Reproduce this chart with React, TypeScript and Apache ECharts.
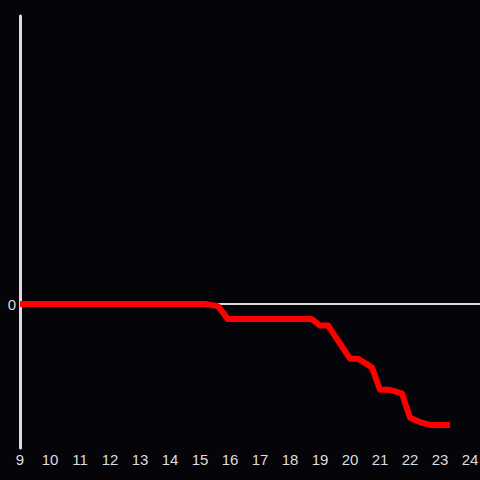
import React, { useEffect, useRef } from "react";
import * as echarts from "echarts";

const hours: number[] = [9, 15.17, 15.6, 15.93, 18.73, 19.0, 19.27, 20.0, 20.27, 20.73, 21.0, 21.3, 21.73, 22.0, 22.33, 22.67, 23.33];
const values: number[] = [0, 0, -1.5, -10.5, -10.5, -15, -15, -38, -38, -44, -59.5, -59.5, -62, -79, -82, -84, -84];

const xMin = 9;
const xMax = 24.333;
const yMin = -100;
const yMax = 200;

export default function App() {
  const ref = useRef<HTMLDivElement>(null);
  useEffect(() => {
    if (!ref.current) return;
    const chart = echarts.init(ref.current, undefined, { renderer: "svg" });
    const data = hours.map((h, i) => [h, values[i]]);
    chart.setOption({
      animation: false,
      backgroundColor: "#050409",
      grid: { left: 20, right: 0, top: 16, bottom: 32, containLabel: false, outerBoundsMode: "none" },
      xAxis: [
        {
          type: "value",
          min: xMin,
          max: xMax,
          interval: 1,
          axisLine: { show: false, onZero: false },
          axisTick: { show: false },
          splitLine: { show: false },
          axisLabel: {
            color: "#dddddd",
            fontSize: 15,
            fontFamily: "Liberation Sans, Arial, sans-serif",
            margin: 4,
            showMaxLabel: true,
            formatter: (v: number) => (Number.isInteger(v) ? String(v) : ""),
          },
        },
        {
          type: "value",
          position: "top",
          min: xMin,
          max: xMax,
          axisLine: { show: true, onZero: true, lineStyle: { color: "#dddddd", width: 2 } },
          axisTick: { show: false },
          axisLabel: { show: false },
          splitLine: { show: false },
        },
      ],
      yAxis: {
        type: "value",
        min: yMin,
        max: yMax,
        interval: 100,
        axisLine: { show: true, lineStyle: { color: "#dddddd", width: 3 } },
        axisTick: { show: false },
        splitLine: { show: false },
        axisLabel: {
          color: "#dddddd",
          fontSize: 15,
          fontFamily: "Liberation Sans, Arial, sans-serif",
          margin: 4,
          formatter: (v: number) => (v === 0 ? "0" : ""),
        },
      },
      series: [
        {
          type: "line",
          xAxisIndex: 0,
          data,
          showSymbol: false,
          symbol: "none",
          lineStyle: { color: "#ff0000", width: 6, cap: "butt", join: "round" },
        },
      ],
    });
    return () => chart.dispose();
  }, []);
  return <div ref={ref} style={{ width: 480, height: 480, position: "fixed", left: 0, top: 0 }} />;
}
